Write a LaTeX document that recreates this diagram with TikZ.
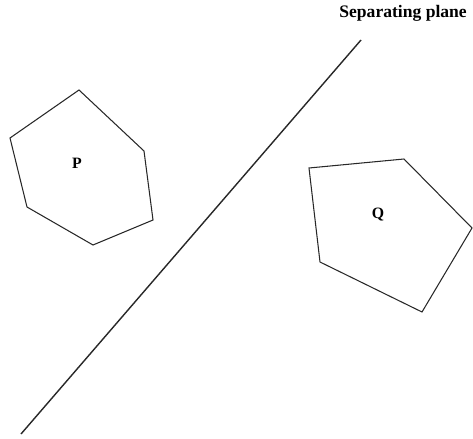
\documentclass[tikz,border=0pt]{standalone}
\usepackage{fontspec}
\setmainfont{Liberation Serif}
\usepackage{tikz}
\usetikzlibrary{positioning}
\definecolor{InkGray}{RGB}{40, 40, 40}

\begin{document}
\begin{tikzpicture}[x=0.02cm, y=-0.02cm]
    \useasboundingbox (0,0) rectangle (473,439);

    % Separating plane
    \coordinate (planeTop) at (361,40);
    \coordinate (planeBot) at (21,434);
    \draw[thick, InkGray] (planeTop) -- (planeBot);
    \node[font=\bfseries, anchor=east] (planeLabel) at (473,13) {Separating plane};

    % Object P (hexagon)
    \draw[semithick, InkGray] (79,90) -- (144,151) -- (153,220) -- (93,245)
      -- (27,207) -- (10,138) -- cycle;
    \node[font=\bfseries\small] (P) at (77,163) {P};

    % Object Q (pentagon)
    \draw[semithick, InkGray] (309,168) -- (404,159) -- (472,228) -- (422,312)
      -- (320,262) -- cycle;
    \node[font=\bfseries\small] (Q) at (378,215) {Q};
  \end{tikzpicture}
\end{document}
